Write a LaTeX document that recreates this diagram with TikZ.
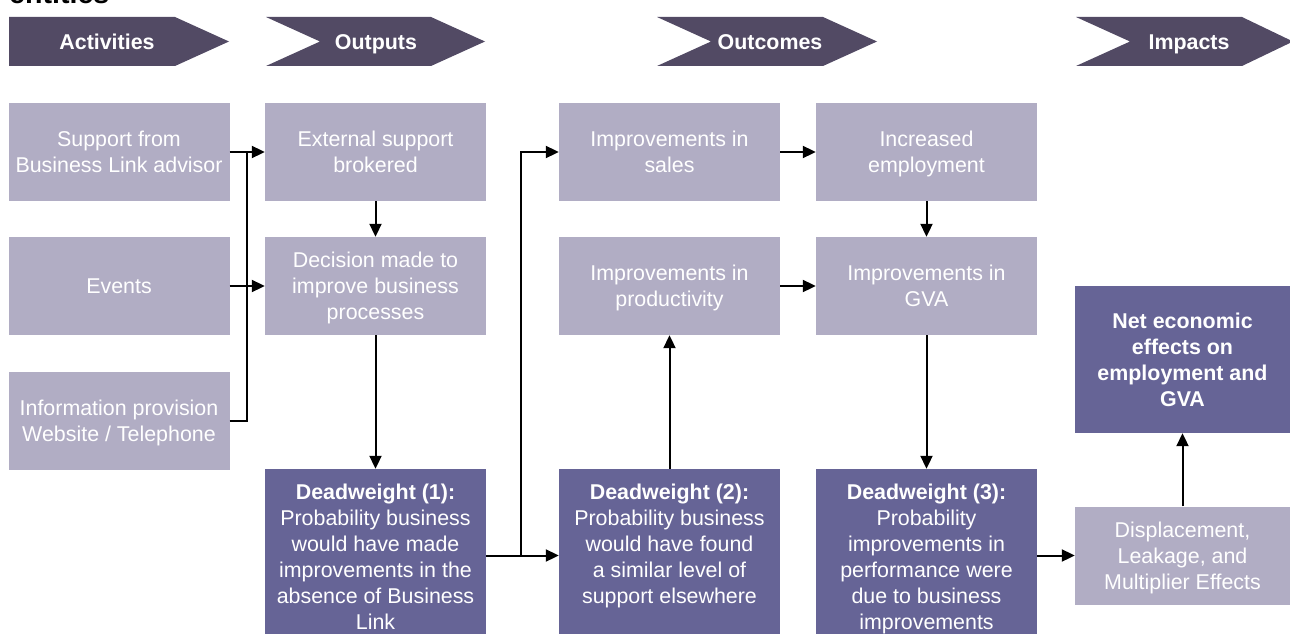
\documentclass[tikz,border=0pt]{standalone}
\usepackage{fontspec}
\setmainfont{Liberation Sans}
\usetikzlibrary{arrows.meta}
\definecolor{headcol}{HTML}{524A64}
\definecolor{darkcol}{HTML}{666496}
\definecolor{lightcol}{HTML}{B1ADC4}
\tikzset{
	headstyle/.style={fill=headcol},
	headtext/.style={text=white,font=\bfseries,anchor=base,inner sep=0pt},
	lightstyle/.style={rectangle,fill=lightcol,text=white,align=center,text depth=0pt,minimum width=221pt,minimum height=98pt,inner sep=0pt},
	darkstyle/.style={rectangle,fill=darkcol,text=white,inner sep=0pt,minimum width=221pt,minimum height=173pt},
	netstyle/.style={rectangle,fill=darkcol,text=white,font=\bfseries,align=center,text depth=0pt,minimum width=215pt,minimum height=147pt,inner sep=0pt},
	linkstyle/.style={line width=2pt,-{Triangle[length=13pt,width=12pt]}}
}

\begin{document}
\begin{tikzpicture}[x=1pt,y=-1pt]
		\fontsize{21.4}{26}\selectfont
		\useasboundingbox (0,0) rectangle (1290,634);
		\node[anchor=base west,inner sep=0pt,font=\fontsize{28.6}{34}\selectfont\bfseries] (title) at (9,4) {entities};
		% header chevrons
		\fill[headstyle] (9,17) -- (175,17) -- (229,41.5) -- (175,66) -- (9,66) -- cycle;
		\fill[headstyle] (266,17) -- (431,17) -- (485,41.5) -- (431,66) -- (266,66) -- (320,41.5) -- cycle;
		\fill[headstyle] (657,17) -- (823,17) -- (877,41.5) -- (823,66) -- (657,66) -- (711,41.5) -- cycle;
		\fill[headstyle] (1076,17) -- (1242,17) -- (1293,41.5) -- (1242,66) -- (1076,66) -- (1130,41.5) -- cycle;
		\node[headtext] (hact) at (107,49.5) {Activities};
		\node[headtext] (hout) at (376,49.5) {Outputs};
		\node[headtext] (hocm) at (770,49.5) {Outcomes};
		\node[headtext] (himp) at (1189,49.5) {Impacts};
		% boxes
		\node[lightstyle] (support) at (119,152) {Support from\\Business Link advisor};
		\node[lightstyle] (events) at (119,286) {Events};
		\node[lightstyle] (info) at (119,420.5) {Information provision\\Website / Telephone};
		\node[lightstyle] (external) at (375.5,152) {External support\\brokered};
		\node[lightstyle] (decision) at (375.5,286) {Decision made to\\improve business\\processes};
		\node[darkstyle] (dw1) at (375.5,555.5) {\parbox[c][173pt][t]{215pt}{\centering\rule{0pt}{30pt}\textbf{Deadweight (1):}\\Probability business\\would have made\\improvements in the\\absence of Business\\Link}};
		\node[lightstyle] (sales) at (669.5,152) {Improvements in\\sales};
		\node[lightstyle] (productivity) at (669.5,286) {Improvements in\\productivity};
		\node[darkstyle] (dw2) at (669.5,555.5) {\parbox[c][173pt][t]{215pt}{\centering\rule{0pt}{30pt}\textbf{Deadweight (2):}\\Probability business\\would have found\\a similar level of\\support elsewhere}};
		\node[lightstyle] (employment) at (926.5,152) {Increased\\employment};
		\node[lightstyle] (gva) at (926.5,286) {Improvements in\\GVA};
		\node[darkstyle] (dw3) at (926.5,555.5) {\parbox[c][173pt][t]{215pt}{\centering\rule{0pt}{30pt}\textbf{Deadweight (3):}\\Probability\\improvements in\\performance were\\due to business\\improvements}};
		\node[netstyle] (net) at (1182.5,359.5) {Net economic\\effects on\\employment and\\GVA};
		\node[lightstyle,minimum width=215pt] (disp) at (1182.5,555.5) {Displacement,\\Leakage, and\\Multiplier Effects};
		% links
		\coordinate (bus) at (247,152);
		\coordinate (fork) at (521,555.5);
		\draw[line width=2pt] (info.east) -| (bus);
		\draw[linkstyle] (support.east) -- (external.west);
		\draw[linkstyle] (events.east) -- (decision.west);
		\draw[linkstyle] (external) -- (decision);
		\draw[linkstyle] (decision) -- (dw1);
		\draw[linkstyle] (dw1) -- (dw2);
		\draw[linkstyle] (fork) |- (sales.west);
		\draw[linkstyle] (dw2) -- (productivity);
		\draw[linkstyle] (sales) -- (employment);
		\draw[linkstyle] (productivity) -- (gva);
		\draw[linkstyle] (employment) -- (gva);
		\draw[linkstyle] (gva) -- (dw3);
		\draw[linkstyle] (dw3) -- (disp);
		\draw[linkstyle] (disp) -- (net);
\end{tikzpicture}
\end{document}
